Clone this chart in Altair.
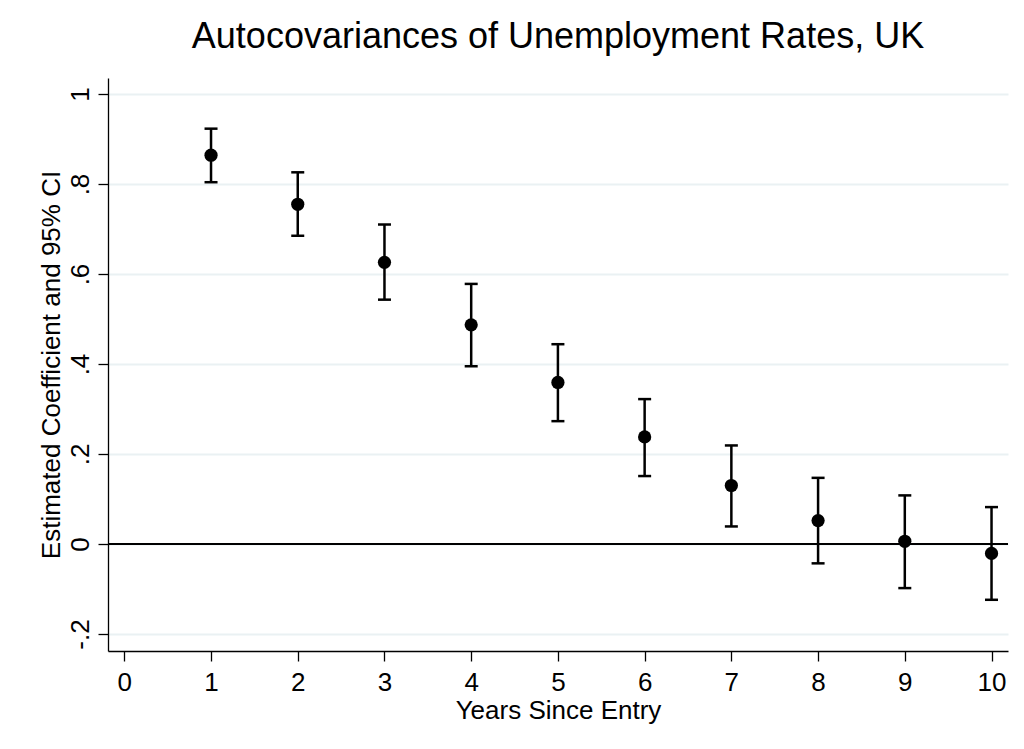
import altair as alt
import pandas as pd

# ---- data ----
years = [1, 2, 3, 4, 5, 6, 7, 8, 9, 10]
coef = [0.864, 0.755, 0.626, 0.487, 0.359, 0.238, 0.130, 0.052, 0.006, -0.021]
ci_low = [0.804, 0.685, 0.543, 0.395, 0.273, 0.151, 0.039, -0.043, -0.098, -0.124]
ci_high = [0.923, 0.826, 0.710, 0.578, 0.444, 0.322, 0.219, 0.147, 0.108, 0.082]
x_ticks = [0, 1, 2, 3, 4, 5, 6, 7, 8, 9, 10]
y_ticks = [-0.2, 0, 0.2, 0.4, 0.6, 0.8, 1]
zero_line = [0]

title_text = "Autocovariances of Unemployment Rates, UK"
x_title = "Years Since Entry"
y_title = "Estimated Coefficient and 95% CI"

df = pd.DataFrame({"year": years, "coef": coef, "lo": ci_low, "hi": ci_high})
zero_df = pd.DataFrame({"zero": zero_line})

FONT = "Liberation Sans"
W, H = 900, 573
GRID = "#eaf1f3"

x_scale = alt.Scale(domain=[-0.188, 10.19], nice=False, zero=False)
y_scale = alt.Scale(domain=[-0.2378, 1.0356], nice=False, zero=False)

x_axis = alt.Axis(
    values=x_ticks, title=x_title, grid=False,
    domainColor="black", domainWidth=1.3,
    tickColor="black", tickWidth=1.3, tickSize=10,
    labelFont=FONT, labelFontSize=26, labelColor="black", labelPadding=8,
    labelBaseline="top", labelFlush=False, labelOverlap=False,
    titleFont=FONT, titleFontSize=26, titleFontWeight="normal", titleColor="black",
    titleBaseline="alphabetic", titleY=67, titleX=W / 2, titleAlign="center",
)
y_axis = alt.Axis(
    values=y_ticks, title=y_title, grid=True, gridColor=GRID, gridWidth=2,
    domainColor="black", domainWidth=1.3,
    tickColor="black", tickWidth=1.3, tickSize=10,
    labelFont=FONT, labelFontSize=26, labelColor="black", labelPadding=10,
    labelAngle=270, labelAlign="center", labelBaseline="alphabetic",
    labelFlush=False, labelOverlap=False,
    labelExpr="datum.value > 0.99 ? '1' : abs(datum.value) < 0.001 ? '0' : (datum.value < 0 ? '-' : '') + '.' + toString(round(abs(datum.value) * 10))",
    titleFont=FONT, titleFontSize=26, titleFontWeight="normal", titleColor="black",
    titleAngle=270, titleBaseline="alphabetic", titleAlign="center",
    titleX=-49, titleY=H / 2,
)

base = alt.Chart(df)

zero = alt.Chart(zero_df).mark_rule(color="black", strokeWidth=2.2).encode(
    y=alt.Y("zero:Q", scale=y_scale, axis=y_axis)
)

bars = base.mark_rule(color="black", strokeWidth=2.5).encode(
    x=alt.X("year:Q", scale=x_scale, axis=x_axis),
    y=alt.Y("lo:Q", scale=y_scale, axis=y_axis),
    y2="hi:Q",
)

caps = base.transform_fold(["lo", "hi"], as_=["bound", "val"]).mark_tick(
    color="black", orient="horizontal", size=13, thickness=2.5, opacity=1
).encode(
    x=alt.X("year:Q", scale=x_scale, axis=x_axis),
    y=alt.Y("val:Q", scale=y_scale, axis=y_axis),
)

points = base.mark_point(filled=True, shape="circle", size=175, color="black", opacity=1).encode(
    x=alt.X("year:Q", scale=x_scale, axis=x_axis),
    y=alt.Y("coef:Q", scale=y_scale, axis=y_axis),
)

chart = alt.layer(zero, bars, caps, points).properties(
    width=W,
    height=H,
    background="white",
    autosize=alt.AutoSizeParams(type="none"),
    padding={"left": 100, "top": 70, "right": 8, "bottom": 80},
    title=alt.TitleParams(
        text=title_text, font=FONT, fontSize=36, fontWeight="normal", color="black",
        anchor="middle", frame="group", baseline="alphabetic", offset=32, dy=38,
    ),
).configure_view(stroke="transparent", strokeWidth=0)

chart.save("out.html", embed_options={"renderer": "svg", "actions": False})
